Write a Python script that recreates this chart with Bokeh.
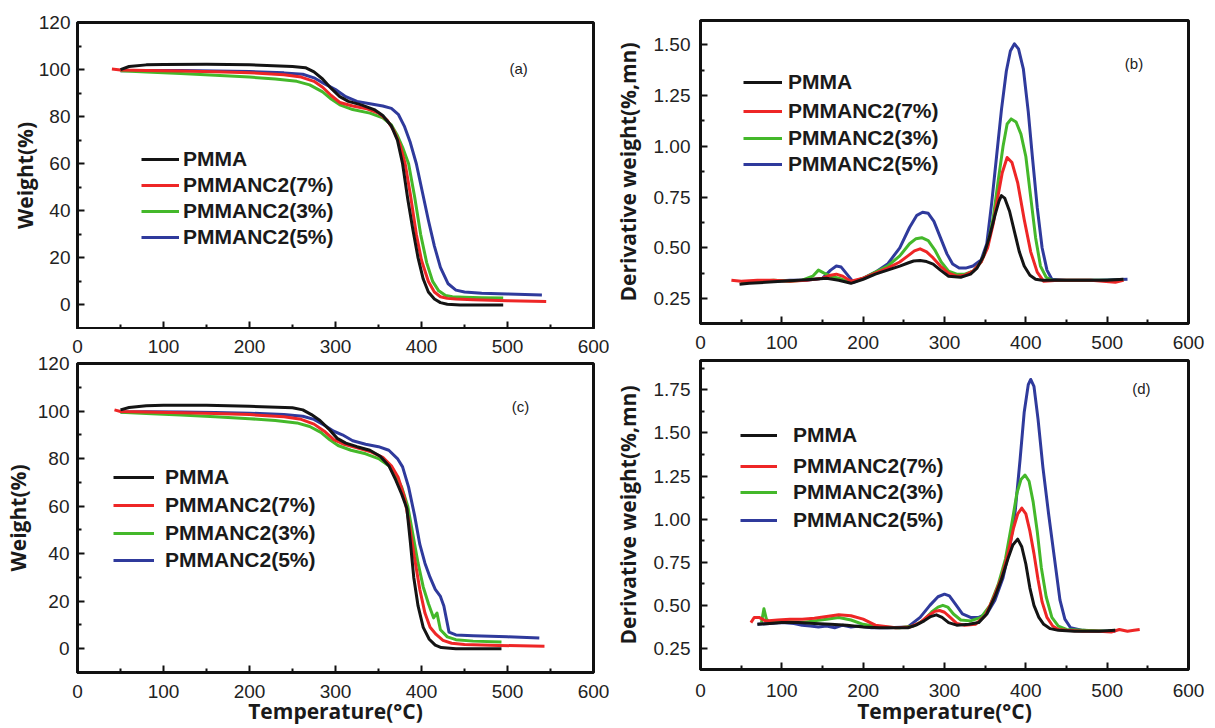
from bokeh.plotting import figure
from bokeh.layouts import column, row
from bokeh.models import (Range1d, FixedTicker, PrintfTickFormatter, Legend, LegendItem,
                          Label, LinearAxis)
from bokeh.embed import file_html
from bokeh.resources import INLINE

# ---------------- data ----------------
series_names = ["PMMA", "PMMANC2(7%)", "PMMANC2(3%)", "PMMANC2(5%)"]
series_colors = ["#141414", "#ee2626", "#44b82a", "#2f3a9c"]
panel_tags = ["(a)", "(b)", "(c)", "(d)"]

x_ticks = [0, 100, 200, 300, 400, 500, 600]
x_minor = [50, 150, 250, 350, 450, 550]
tga_ticks = [0, 20, 40, 60, 80, 100, 120]
tga_minor = [-10, 10, 30, 50, 70, 90, 110]
dtg_b_ticks = [0.25, 0.50, 0.75, 1.00, 1.25, 1.50]
dtg_b_minor = [0.125, 0.375, 0.625, 0.875, 1.125, 1.375, 1.625]
dtg_d_ticks = [0.25, 0.50, 0.75, 1.00, 1.25, 1.50, 1.75]
dtg_d_minor = [0.125, 0.375, 0.625, 0.875, 1.125, 1.375, 1.625, 1.875]

# (a) TGA
a_pmma_t = [50, 60, 80, 100, 150, 200, 250, 265, 275, 285, 295, 305, 315, 330, 345, 355, 365, 372, 378, 384, 390, 396, 402, 408, 415, 422, 430, 445, 470, 495]
a_pmma_w = [100, 101.3, 102, 102.2, 102.3, 102, 101.3, 100.8, 99, 96, 92, 88.5, 86.5, 85, 83, 80.5, 76, 70, 60, 45, 32, 20, 11, 5.5, 2.5, 1, 0.3, 0, 0, 0]
a_nc7_t = [40, 50, 80, 120, 160, 200, 240, 260, 275, 285, 295, 305, 320, 335, 350, 360, 368, 375, 381, 387, 394, 400, 408, 415, 422, 430, 440, 460, 500, 545]
a_nc7_w = [100.2, 99.8, 99.6, 99.4, 99.1, 98.7, 97.8, 96.8, 95, 92.5, 89, 86, 84.5, 83.5, 81.5, 78.5, 74, 68, 60, 47, 30, 19, 10, 5.5, 3.5, 2.8, 2.5, 2.2, 1.8, 1.5]
a_nc3_t = [50, 80, 120, 160, 200, 230, 255, 270, 285, 295, 305, 320, 340, 355, 365, 372, 378, 385, 392, 399, 406, 413, 420, 428, 436, 450, 470, 495]
a_nc3_w = [99.5, 99, 98.3, 97.6, 96.8, 96, 95, 93.5, 90.5, 87.5, 85, 83, 81.5, 79.5, 76.5, 72, 67, 60, 46, 30, 18, 10, 6, 4, 3.5, 3.3, 3.1, 3]
a_nc5_t = [50, 80, 120, 160, 200, 240, 262, 275, 287, 300, 312, 325, 340, 355, 365, 373, 380, 387, 394, 401, 408, 415, 422, 431, 440, 450, 470, 500, 540]
a_nc5_w = [99.5, 99.6, 99.6, 99.4, 99.2, 98.6, 98, 96.5, 94, 91.5, 88.5, 86.5, 85.5, 84.5, 83.5, 81, 76, 69, 60, 48, 36, 25, 16, 9, 6.3, 5.5, 5, 4.7, 4.2]

# (b) DTG
b_pmma_t = [48, 60, 80, 100, 120, 140, 155, 170, 185, 200, 215, 230, 245, 255, 262, 270, 278, 286, 295, 305, 320, 332, 340, 348, 355, 362, 367, 370, 374, 380, 386, 392, 398, 405, 412, 420, 440, 470, 500, 520]
b_pmma_d = [0.32, 0.325, 0.33, 0.335, 0.34, 0.345, 0.35, 0.34, 0.325, 0.345, 0.37, 0.39, 0.41, 0.425, 0.435, 0.437, 0.432, 0.42, 0.39, 0.36, 0.355, 0.37, 0.40, 0.46, 0.55, 0.66, 0.73, 0.757, 0.745, 0.68, 0.58, 0.48, 0.41, 0.365, 0.345, 0.34, 0.34, 0.34, 0.34, 0.345]
b_nc7_t = [38, 50, 70, 90, 110, 130, 150, 160, 167, 175, 185, 200, 215, 230, 245, 255, 263, 270, 278, 286, 295, 305, 315, 325, 335, 345, 353, 360, 366, 371, 377, 383, 390, 398, 406, 414, 422, 440, 480, 510, 520]
b_nc7_d = [0.34, 0.335, 0.34, 0.34, 0.335, 0.34, 0.35, 0.365, 0.37, 0.36, 0.335, 0.35, 0.375, 0.40, 0.43, 0.46, 0.485, 0.495, 0.48, 0.45, 0.41, 0.375, 0.36, 0.365, 0.385, 0.43, 0.50, 0.62, 0.76, 0.87, 0.945, 0.92, 0.82, 0.64, 0.48, 0.38, 0.335, 0.34, 0.34, 0.33, 0.34]
b_nc3_t = [50, 70, 90, 110, 125, 138, 145, 152, 160, 170, 185, 200, 215, 230, 245, 257, 265, 272, 280, 288, 296, 305, 315, 325, 335, 345, 353, 360, 366, 372, 377, 382, 388, 394, 400, 406, 412, 418, 425, 432, 440, 480, 520]
b_nc3_d = [0.33, 0.335, 0.34, 0.335, 0.34, 0.36, 0.39, 0.375, 0.36, 0.35, 0.33, 0.35, 0.38, 0.41, 0.46, 0.52, 0.545, 0.55, 0.535, 0.49, 0.43, 0.385, 0.37, 0.37, 0.385, 0.43, 0.51, 0.65, 0.83, 1.0, 1.11, 1.135, 1.12, 1.06, 0.95, 0.75, 0.55, 0.41, 0.355, 0.34, 0.34, 0.34, 0.34]
b_nc5_t = [50, 70, 90, 110, 130, 150, 160, 167, 173, 180, 188, 200, 215, 230, 245, 257, 266, 273, 280, 287, 295, 303, 310, 318, 326, 335, 345, 352, 358, 364, 370, 376, 381, 386, 391, 397, 403, 408, 414, 420, 426, 432, 450, 490, 525]
b_nc5_d = [0.33, 0.335, 0.335, 0.34, 0.34, 0.35, 0.39, 0.41, 0.405, 0.37, 0.33, 0.35, 0.38, 0.42, 0.50, 0.60, 0.66, 0.675, 0.67, 0.63, 0.55, 0.47, 0.42, 0.40, 0.40, 0.41, 0.44, 0.52, 0.72, 0.95, 1.18, 1.37, 1.47, 1.505, 1.48, 1.38, 1.17, 0.95, 0.70, 0.50, 0.39, 0.345, 0.34, 0.34, 0.345]

# (c) TGA
c_pmma_t = [50, 60, 80, 100, 150, 200, 250, 262, 272, 282, 292, 302, 312, 325, 340, 352, 362, 370, 377, 383, 387, 391, 396, 402, 409, 416, 423, 440, 493]
c_pmma_w = [100.5, 101.5, 102.2, 102.4, 102.4, 102, 101.4, 100.5, 98.5, 96, 92.5, 88.5, 86.5, 85, 83.5, 81, 77, 71, 65, 59, 45, 30, 18, 9, 4, 1.5, 0.5, 0, 0]
c_nc7_t = [43, 50, 80, 120, 160, 200, 240, 260, 275, 287, 298, 310, 325, 340, 355, 365, 373, 380, 386, 392, 398, 404, 410, 417, 425, 435, 450, 490, 543]
c_nc7_w = [100.5, 99.8, 99.6, 99.3, 99, 98.5, 97.6, 96.5, 94.5, 91.5, 88, 86, 84.5, 83, 80.5, 77, 72, 64, 52, 38, 25, 15, 9, 6, 3.5, 2.3, 1.8, 1.4, 1]
c_nc3_t = [50, 80, 120, 160, 200, 230, 255, 270, 283, 293, 303, 318, 335, 350, 362, 370, 377, 384, 390, 396, 402, 408, 414, 418, 422, 430, 440, 460, 493]
c_nc3_w = [99.5, 99, 98.3, 97.6, 96.8, 96, 95, 93.5, 91, 88, 85.5, 83.5, 82, 80, 77, 73, 68, 60, 48, 36, 26, 19, 13, 15, 8, 5, 3.8, 3.2, 2.8]
c_nc5_t = [50, 80, 120, 160, 200, 240, 262, 275, 287, 298, 308, 320, 335, 350, 362, 372, 378, 385, 392, 398, 404, 410, 416, 422, 426, 432, 440, 460, 500, 537]
c_nc5_w = [99.6, 99.7, 99.6, 99.4, 99.1, 98.5, 97.8, 96.5, 94, 91.5, 90, 87.5, 86, 85, 83.5, 80, 76.5, 68, 56, 44, 36, 30, 25, 22, 18, 7, 5.8, 5.5, 5, 4.5]

# (d) DTG
d_pmma_t = [70, 85, 100, 120, 140, 160, 180, 200, 220, 240, 255, 265, 275, 283, 290, 297, 305, 315, 330, 342, 352, 362, 370, 378, 384, 390, 395, 400, 405, 410, 416, 422, 430, 440, 460, 490, 510]
d_pmma_d = [0.39, 0.395, 0.40, 0.40, 0.395, 0.39, 0.385, 0.375, 0.37, 0.37, 0.37, 0.385, 0.41, 0.435, 0.445, 0.43, 0.40, 0.385, 0.39, 0.40, 0.45, 0.55, 0.65, 0.77, 0.85, 0.884, 0.84, 0.74, 0.60, 0.50, 0.43, 0.39, 0.365, 0.355, 0.35, 0.35, 0.355]
d_nc7_t = [62, 66, 72, 80, 95, 110, 125, 140, 155, 170, 185, 200, 215, 240, 258, 270, 280, 288, 294, 300, 307, 315, 325, 338, 350, 360, 370, 378, 385, 390, 395, 400, 405, 410, 415, 420, 426, 433, 440, 450, 470, 490, 505, 515, 525, 533, 540]
d_nc7_d = [0.40, 0.43, 0.43, 0.41, 0.415, 0.42, 0.42, 0.425, 0.435, 0.445, 0.44, 0.42, 0.385, 0.37, 0.375, 0.40, 0.44, 0.465, 0.47, 0.46, 0.43, 0.395, 0.385, 0.39, 0.44, 0.54, 0.66, 0.80, 0.95, 1.03, 1.064, 1.03, 0.93, 0.80, 0.65, 0.52, 0.43, 0.38, 0.36, 0.355, 0.35, 0.35, 0.345, 0.36, 0.35, 0.355, 0.36]
d_nc3_t = [75, 78, 81, 85, 95, 110, 125, 140, 155, 170, 185, 200, 220, 245, 262, 275, 285, 292, 298, 304, 311, 320, 332, 345, 356, 366, 375, 383, 389, 394, 399, 404, 409, 414, 419, 425, 432, 440, 450, 470, 500, 510]
d_nc3_d = [0.40, 0.48, 0.42, 0.40, 0.41, 0.405, 0.40, 0.41, 0.42, 0.43, 0.415, 0.39, 0.375, 0.37, 0.38, 0.415, 0.465, 0.49, 0.50, 0.49, 0.45, 0.415, 0.41, 0.43, 0.50, 0.62, 0.77, 0.98, 1.15, 1.23, 1.256, 1.22, 1.10, 0.93, 0.72, 0.55, 0.43, 0.38, 0.36, 0.355, 0.35, 0.355]
d_nc5_t = [70, 85, 100, 115, 125, 135, 145, 155, 165, 175, 185, 195, 210, 230, 255, 270, 282, 292, 300, 306, 313, 322, 332, 342, 352, 362, 372, 380, 387, 393, 398, 403, 406, 410, 415, 421, 428, 435, 442, 448, 455, 470, 490, 510]
d_nc5_d = [0.39, 0.395, 0.40, 0.395, 0.385, 0.38, 0.375, 0.38, 0.37, 0.385, 0.375, 0.38, 0.37, 0.37, 0.375, 0.43, 0.50, 0.55, 0.565, 0.555, 0.51, 0.45, 0.43, 0.43, 0.45, 0.53, 0.66, 0.83, 1.05, 1.35, 1.62, 1.78, 1.81, 1.77, 1.58, 1.30, 1.03, 0.78, 0.53, 0.42, 0.37, 0.355, 0.35, 0.35]

TICK_FONT = "Liberation Sans"
TITLE_FONT = "Open Sans"
LEGEND_FONT = "Liberation Sans"


def make_panel(width, height, mb, y_rng, yticks, yminor, yfmt, ylabel, xlabel,
               series, legend_x, legend_ys, glyph_w, standoff, tag, tag_xy,
               ylab_standoff, ytick_standoff, xtick_standoff, xlab_standoff,
               show_x_labels=True):
    p = figure(width=width, height=height, output_backend="svg", toolbar_location=None,
               x_range=Range1d(0, 600), y_range=Range1d(*y_rng),
               min_border_left=mb[0], min_border_right=mb[1],
               min_border_top=mb[2], min_border_bottom=mb[3])
    p.grid.visible = False
    p.background_fill_color = "white"
    p.border_fill_color = "white"
    p.outline_line_color = "#111111"
    p.outline_line_width = 3

    for ax in (p.xaxis[0], p.yaxis[0]):
        ax.axis_line_color = "#111111"
        ax.axis_line_width = 3
        ax.major_tick_in = 7
        ax.major_tick_out = 0
        ax.minor_tick_in = 4
        ax.minor_tick_out = 0
        ax.major_tick_line_width = 2
        ax.minor_tick_line_width = 2
        ax.major_tick_line_color = "#111111"
        ax.minor_tick_line_color = "#111111"
        ax.major_label_text_font = TICK_FONT
        ax.major_label_text_font_size = "19px"
        ax.major_label_text_color = "#222222"
        ax.axis_label_text_font = TITLE_FONT
        ax.axis_label_text_font_style = "bold"
        ax.axis_label_text_font_size = "21px"
        ax.axis_label_text_color = "#1a1a1a"

    p.xaxis.ticker = FixedTicker(ticks=x_ticks, minor_ticks=x_minor)
    p.yaxis.ticker = FixedTicker(ticks=yticks, minor_ticks=yminor)
    if yfmt:
        p.yaxis.formatter = PrintfTickFormatter(format=yfmt)
    p.yaxis.axis_label = ylabel
    p.yaxis.axis_label_standoff = ylab_standoff
    p.yaxis.major_label_standoff = ytick_standoff
    p.xaxis.major_label_standoff = xtick_standoff
    if not show_x_labels:
        # the tick labels of this panel are drawn by the panel below (see "above" axis)
        p.xaxis.major_label_overrides = {t: "" for t in x_ticks}
        p.xaxis.major_label_text_font_size = "1px"
    if xlabel:
        p.xaxis.axis_label = xlabel
        p.xaxis.axis_label_standoff = xlab_standoff

    rs = [None] * 4
    for idx in [3, 2, 1, 0]:
        t, v = series[idx]
        rs[idx] = p.line(t, v, line_color=series_colors[idx], line_width=3, line_join="round")

    for name, r, ly in zip(series_names, rs, legend_ys):
        leg = Legend(items=[LegendItem(label=name, renderers=[r])], location=(legend_x, ly),
                     label_text_font=LEGEND_FONT, label_text_font_style="bold",
                     label_text_font_size="21px", label_text_color="#1a1a1a",
                     glyph_width=glyph_w, glyph_height=20, label_height=20,
                     label_standoff=standoff, spacing=0, padding=0, margin=0,
                     border_line_alpha=0, background_fill_alpha=0)
        p.add_layout(leg)

    p.add_layout(Label(x=tag_xy[0], y=tag_xy[1], text=tag, text_align="center",
                       text_baseline="middle", text_font=TICK_FONT,
                       text_font_size="15px", text_color="#222222"))
    return p


pa = make_panel(609, 329, (77, 16, 22, 1), (-10, 120), tga_ticks, tga_minor, None,
                "Weight(%)", None,
                [(a_pmma_t, a_pmma_w), (a_nc7_t, a_nc7_w), (a_nc3_t, a_nc3_w), (a_nc5_t, a_nc5_w)],
                64, [157, 131, 105, 79], 38, 4, panel_tags[0], (513, 100.4), -3, 7, 0, 0,
                show_x_labels=False)
pb = make_panel(605, 358, (91, 18, 20, 35), (0.127, 1.62), dtg_b_ticks, dtg_b_minor, "%.2f",
                "Derivative weight(%,mn)", None,
                [(b_pmma_t, b_pmma_d), (b_nc7_t, b_nc7_d), (b_nc3_t, b_nc3_d), (b_nc5_t, b_nc5_d)],
                43, [229, 200, 173, 147], 39, 6, panel_tags[1], (533, 1.41), 9, 10, 12, 0)
pc = make_panel(609, 399, (77, 16, 34, 56), (-10, 120), tga_ticks, tga_minor, None,
                "Weight(%)", "Temperature(°C)",
                [(c_pmma_t, c_pmma_w), (c_nc7_t, c_nc7_w), (c_nc3_t, c_nc3_w), (c_nc5_t, c_nc5_w)],
                36, [183, 155, 127, 100], 41, 11, panel_tags[2], (515, 102), 3, 8, 12, -4)
pd = make_panel(605, 370, (90, 26, 2, 59), (0.128, 1.92), dtg_d_ticks, dtg_d_minor, "%.2f",
                "Derivative weight(%,mn)", "Temperature(°C)",
                [(d_pmma_t, d_pmma_d), (d_nc7_t, d_nc7_d), (d_nc3_t, d_nc3_d), (d_nc5_t, d_nc5_d)],
                40, [222, 191, 165, 137], 37, 16, panel_tags[3], (542, 1.76), 9, 10, 14, -3)

# temperature tick labels of panel (a), drawn in the gap above panel (c)
top_axis = LinearAxis(ticker=FixedTicker(ticks=x_ticks))
top_axis.axis_line_color = None
top_axis.major_tick_line_color = None
top_axis.minor_tick_line_color = None
top_axis.major_tick_in = 0
top_axis.major_tick_out = 0
top_axis.minor_tick_in = 0
top_axis.minor_tick_out = 0
top_axis.major_label_standoff = 11
top_axis.major_label_text_font = TICK_FONT
top_axis.major_label_text_font_size = "19px"
top_axis.major_label_text_color = "#222222"
pc.add_layout(top_axis, "above")

layout = row(column(pa, pc), column(pb, pd))
open("out.html", "w").write(file_html(layout, INLINE))
